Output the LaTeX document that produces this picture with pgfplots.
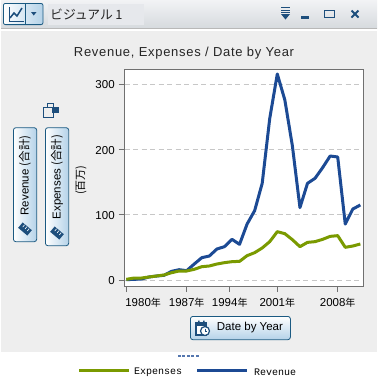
\documentclass[border=0pt]{standalone}
\usepackage{pgfplots}
\pgfplotsset{compat=1.18}
\usepackage{fontspec}
\setmainfont{Liberation Sans}
\newfontfamily\cjk{Noto Sans CJK JP}
\newfontfamily\mono{Liberation Mono}
\usetikzlibrary{shadings}
\definecolor{panel}{HTML}{EEEEEE}
\definecolor{HeaderTop}{HTML}{F2F3F5}
\definecolor{HeaderBot}{HTML}{D6DADE}
\definecolor{HeaderMid}{HTML}{E6E8EC}
\definecolor{rev}{HTML}{1C4A94}
\definecolor{exp}{HTML}{7A9A00}
\definecolor{frame}{HTML}{707070}
\definecolor{btn}{HTML}{1B5A82}
\definecolor{btnlo}{HTML}{B4D2E8}
\definecolor{icon}{HTML}{1D4E7C}
\pgfplotstableread{
i rev exp
0 0.5 1
1 1 3
2 1.5 3
3 4.6 4.6
4 6.1 6.1
5 7.2 7.7
6 13.3 11.2
7 15.8 13.8
8 14.3 13.8
9 24.5 16.4
10 34.2 20.4
11 36.8 21.5
12 47.5 24.5
13 51.1 26.6
14 62.3 28.1
15 54.7 28.6
16 85.8 37.3
17 106.3 41.9
18 148.2 49.1
19 247.8 58.8
20 315.8 74.1
21 275.9 71
22 205.4 61.8
23 111 51.1
24 148.2 57.7
25 155.9 58.8
26 172.2 62.3
27 190.1 66.9
28 188.6 68
29 85.8 50.1
30 108.8 52.1
31 115 55.2
}\datatable
\newcommand{\fs}[1]{\fontsize{#1}{#1}\selectfont}
\newcommand{\nen}{{\cjk\fs{10}年}}
\begin{document}
\begin{tikzpicture}[x=1pt,y=1pt]
\path[use as bounding box] (0,0) rectangle (378,-389);
% panel backgrounds
\fill[white] (0,0) rectangle (378,-389);
\fill[panel] (1,-31) rectangle (377,-352);
\shade[top color=HeaderTop,bottom color=HeaderBot] (1,0) rectangle (377,-28) ;
\fill[HeaderMid] (48,-4) rectangle (144,-25);
\fill[black!28] (1,-28) rectangle (377,-29.2);
% header button
\shade[left color=white,right color=btnlo,rounded corners=2pt,draw=btn,line width=0.8pt] (3.4,-3.4) rectangle (43,-24.6);
\draw[btn,line width=0.6pt] (25.5,-3.4) -- (25.5,-24.6);
\draw[icon,line width=1pt] (9,-7) -- (9,-21) -- (24,-21);
\draw[icon,line width=1.5pt] (10,-18) -- (14,-13) -- (17,-16) -- (22,-8);
\fill[icon] (31,-12) -- (36.5,-12) -- (33.75,-15.5) -- cycle;
\node[anchor=west,inner sep=0pt,text=black!85] at (50,-14) {\cjk\fs{12.8}ビジュアル\hspace{2.5pt}1};
% window controls
\draw[icon,line width=1pt] (281,-7.5) -- (290,-7.5) (281,-10) -- (290,-10) (281,-12.5) -- (290,-12.5);
\fill[icon] (281,-14) -- (290,-14) -- (285.5,-19.5) -- cycle;
\fill[icon] (301,-15.5) rectangle (309,-18.5);
\draw[icon,line width=1.2pt] (324.6,-10.6) rectangle (334.6,-17.6);
\draw[icon,line width=0.9pt] (324.6,-10) -- (334.6,-10);
\draw[icon,line width=1.8pt] (351.5,-10.5) -- (358.5,-17.5) (358.5,-10.5) -- (351.5,-17.5);
% title
\node[anchor=center,inner sep=0pt,text=black!85] at (184,-53.5) {\addfontfeature{LetterSpace=5.4}\fs{13}Revenue, Expenses / Date by Year};
% lock icon
\draw[icon,line width=1pt] (43.5,-117.5) rectangle (53,-107.5);
\draw[icon,line width=1pt] (47,-107.5) -- (47,-103.5) -- (53,-103.5) -- (53,-107.5);
\fill[icon] (52,-113) rectangle (59,-107);
% pills
\shade[left color=white,right color=btnlo,rounded corners=2.5pt,draw=btn,line width=0.8pt] (13.4,-127.7) rectangle (36.7,-241.7);
\shade[left color=white,right color=btnlo,rounded corners=2.5pt,draw=btn,line width=0.8pt] (45.4,-127.7) rectangle (68.7,-245.7);
\node[rotate=90,anchor=west,inner sep=0pt,text=black] at (25,-215.5) {\fs{11.5}Revenue {\cjk(合計)}};
\node[rotate=90,anchor=west,inner sep=0pt,text=black] at (57,-219.5) {\fs{11.5}Expenses {\cjk(合計)}};
\fill[icon,rotate around={-40:(25,-229)}] (19,-232.5) rectangle (31,-225.5);
\fill[icon,rotate around={-40:(57,-233)}] (51,-236.5) rectangle (63,-229.5);
\draw[white,line width=0.6pt,rotate around={-40:(25,-229)}] (22,-226) -- (22,-229) (25,-226) -- (25,-229) (28,-226) -- (28,-229);
\draw[white,line width=0.6pt,rotate around={-40:(57,-233)}] (54,-230) -- (54,-233) (57,-230) -- (57,-233) (60,-230) -- (60,-233);
\node[rotate=90,anchor=center,inner sep=0pt,text=black] at (81,-180) {\cjk\fs{11}(百万)};
% chart
\begin{axis}[
  at={(124.7pt,-286pt)},anchor=south west,
  scale only axis,width=238.6pt,height=216.7pt,
  axis background/.style={fill=white},
  xmin=-0.21,xmax=31.39,ymin=-9.2,ymax=323,
  axis line style={frame,line width=1pt},
  tick style={frame,line width=0.8pt},
  tick align=outside,major tick length=6pt,
  xtick pos=bottom,ytick pos=left,
  ytick={0,100,200,300},
  ymajorgrids,
  grid style={black!22,dash pattern=on 5pt off 3.5pt,line width=0.8pt},
  xtick={8,13.7,20,28},
  xticklabels={1987\nen,1994\nen,2001\nen,2008\nen},
  extra x ticks={0},
  extra x tick labels={1980\nen},
  extra x tick style={xticklabel style={anchor=north west,xshift=-4.5pt}},
  tick label style={font=\fs{11.5},text=black},
  /pgf/number format/assume math mode=true,
  xticklabel style={yshift=-2.5pt},
  yticklabel style={xshift=-0.5pt,yshift=-0.7pt},
]
\addplot[rev,line width=3pt,line join=round] table[x=i,y=rev]{\datatable};
\addplot[exp,line width=3pt,line join=round] table[x=i,y=exp]{\datatable};
\end{axis}
% x button
\shade[top color=white,bottom color=btnlo,rounded corners=2.5pt,draw=btn,line width=0.8pt] (190.4,-316.4) rectangle (290.4,-339.7);
\node[anchor=west,inner sep=0pt,text=black] at (216.7,-328) {\fs{11.5}Date by Year};
\draw[icon,line width=1.4pt,fill=white] (196,-323) rectangle (206,-335);
\fill[icon] (196,-323) rectangle (206,-326);
\fill[icon] (198,-320.5) rectangle (199.5,-323) (203,-320.5) rectangle (204.5,-323);
\draw[icon,line width=1.2pt,fill=white] (205,-331) circle (4.5);
\draw[icon,line width=0.7pt] (205,-328.5) -- (205,-331) -- (207,-331);
% legend
\foreach \xx in {177.5,182,186.5,191,195.5} \fill[rev!75] (\xx,-355) rectangle +(3,-2.2);
\fill[exp] (79,-369) rectangle (129,-372);
\fill[rev] (197,-369) rectangle (247,-372);
\node[anchor=west,inner sep=0pt,text=black] at (134,-372) {\mono\fs{10}Expenses};
\node[anchor=west,inner sep=0pt,text=black] at (254,-372) {\mono\fs{10}Revenue};
\end{tikzpicture}
\end{document}
